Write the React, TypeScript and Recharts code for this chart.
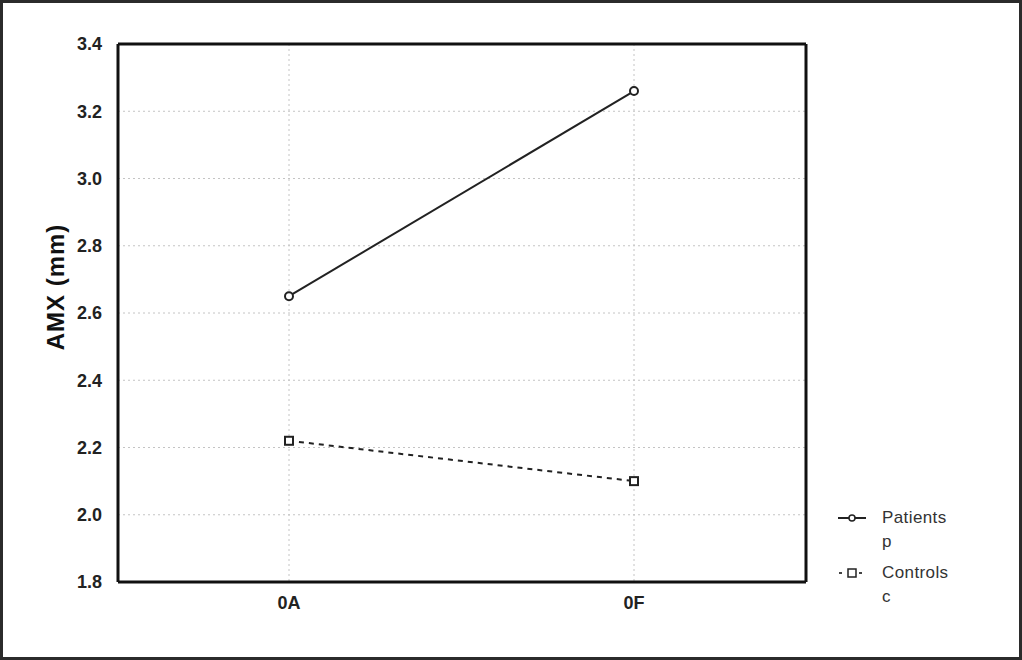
import React from "react";
import { LineChart, Line, XAxis, YAxis, CartesianGrid } from "recharts";

const categories = ["0A", "0F"];
const patients = [2.65, 3.26];
const controls = [2.22, 2.1];
const yTicks = [1.8, 2.0, 2.2, 2.4, 2.6, 2.8, 3.0, 3.2, 3.4];
const legendNames = ["Patients", "Controls"];
const legendCodes = ["p", "c"];

const data = categories.map((c, i) => ({ cat: c, patients: patients[i], controls: controls[i] }));

const FONT = "'Liberation Sans', Arial, sans-serif";

const SquareDot = (props: any) => {
  const { cx, cy } = props;
  if (cx == null || cy == null) return null;
  return <rect x={cx - 4} y={cy - 4} width={8} height={8} fill="#fff" stroke="#222" strokeWidth={2} />;
};

const CircleDot = (props: any) => {
  const { cx, cy } = props;
  if (cx == null || cy == null) return null;
  return <circle cx={cx} cy={cy} r={4} fill="#fff" stroke="#222" strokeWidth={2} />;
};

const LegendBox = () => (
  <div
    style={{
      position: "absolute",
      left: 836,
      top: 506,
      fontFamily: FONT,
      fontSize: 17,
      color: "#333",
      lineHeight: "24px",
      letterSpacing: 0.4,
    }}
  >
    <div style={{ display: "flex", alignItems: "flex-start" }}>
      <svg width={46} height={24}>
        <line x1={2} y1={12} x2={30} y2={12} stroke="#222" strokeWidth={2} />
        <circle cx={16} cy={12} r={3} fill="#fff" stroke="#222" strokeWidth={1.5} />
      </svg>
      <div>
        <div>{legendNames[0]}</div>
        <div>{legendCodes[0]}</div>
      </div>
    </div>
    <div style={{ display: "flex", alignItems: "flex-start", marginTop: 7 }}>
      <svg width={46} height={24}>
        <line x1={2} y1={12} x2={28} y2={12} stroke="#444" strokeWidth={2} strokeDasharray="3 7" strokeDashoffset={-1} />
        <rect x={12} y={8} width={8} height={8} fill="#fff" stroke="#222" strokeWidth={1.5} />
      </svg>
      <div>
        <div>{legendNames[1]}</div>
        <div>{legendCodes[1]}</div>
      </div>
    </div>
  </div>
);

export default function App() {
  return (
    <div style={{ position: "absolute", left: 0, top: 0, width: 1022, height: 660, background: "#fff", fontFamily: FONT }}>
      <LineChart
        width={1022}
        height={660}
        data={data}
        margin={{ top: 43, right: 215, bottom: 48, left: 58 }}
      >
        <CartesianGrid stroke="#c4c4c4" strokeDasharray="2 3" strokeWidth={1} />
        <XAxis
          dataKey="cat"
          padding={{ left: 171, right: 172 }}
          axisLine={{ stroke: "#111", strokeWidth: 3 }}
          tickLine={false}
          tickSize={4}
          tickMargin={10}
          height={30}
          tick={{ fill: "#222", fontSize: 18, fontWeight: 700, fontFamily: FONT }}
        />
        <XAxis
          xAxisId="top"
          orientation="top"
          dataKey="cat"
          padding={{ left: 171, right: 172 }}
          axisLine={{ stroke: "#111", strokeWidth: 3 }}
          tick={false}
          tickLine={false}
          height={1}
        />
        <YAxis
          domain={[1.8, 3.4]}
          ticks={yTicks}
          type="number"
          tickFormatter={(v: number) => v.toFixed(1)}
          axisLine={{ stroke: "#111", strokeWidth: 3 }}
          tickLine={false}
          tickSize={6}
          tickMargin={10}
          width={60}
          interval={0}
          tick={{ fill: "#222", fontSize: 18, fontWeight: 700, fontFamily: FONT }}
          label={{
            value: "AMX (mm)",
            angle: -90,
            position: "insideLeft",
            offset: -3,
            dy: -26,
            style: { textAnchor: "middle", fill: "#111", fontSize: 24, fontWeight: 700, letterSpacing: 1, fontFamily: FONT },
          }}
        />
        <YAxis
          yAxisId="right"
          orientation="right"
          domain={[1.8, 3.4]}
          type="number"
          axisLine={{ stroke: "#111", strokeWidth: 3 }}
          tick={false}
          tickLine={false}
          width={1}
        />
        <Line
          dataKey="patients"
          stroke="#222"
          strokeWidth={2}
          dot={<CircleDot />}
          isAnimationActive={false}
        />
        <Line
          dataKey="controls"
          stroke="#222"
          strokeWidth={2}
          strokeDasharray="5 5"
          dot={<SquareDot />}
          isAnimationActive={false}
        />
      </LineChart>
      <LegendBox />
      <div
        style={{
          position: "absolute",
          left: 0,
          top: 0,
          width: 1022,
          height: 660,
          boxSizing: "border-box",
          border: "3px solid #2b2b2b",
          pointerEvents: "none",
        }}
      />
    </div>
  );
}
